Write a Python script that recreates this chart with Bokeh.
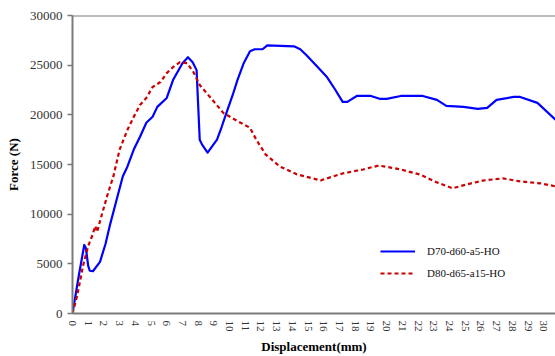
import math
from bokeh.plotting import figure
from bokeh.models import Span, Legend, LegendItem, FixedTicker, Range1d
from bokeh.embed import file_html
from bokeh.resources import INLINE

# Load-displacement curves of the two specimens
disp_a = [0, 0.4, 0.75, 0.85, 1.0, 1.1, 1.3, 1.75, 2.1, 2.4, 2.8, 3.2, 3.5, 3.9, 4.3,
          4.7, 5.1, 5.4, 6.0, 6.4, 7.0, 7.35, 7.65, 7.9, 8.0, 8.1, 8.25, 8.6, 9.2,
          9.5, 9.8, 10.2, 10.5, 10.9, 11.3, 11.6, 12.1, 12.4, 14.1, 14.5, 14.9,
          15.5, 16.2, 16.7, 17.2, 17.5, 17.7, 18.1, 19.0, 19.6, 20.0, 20.9, 22.3,
          23.2, 23.8, 24.9, 25.8, 26.4, 27.0, 28.1, 28.5, 29.6, 30.75]
force_a = [0, 3800, 6900, 6600, 4800, 4300, 4250, 5200, 7000, 9000, 11400, 13800,
           14800, 16500, 17800, 19200, 19800, 20800, 21700, 23500, 25200, 25800,
           25300, 24500, 21000, 17500, 17000, 16200, 17500, 18800, 20200, 22000,
           23500, 25200, 26400, 26600, 26600, 27000, 26900, 26600, 26000, 25000,
           23800, 22600, 21300, 21300, 21500, 21900, 21900, 21600, 21600, 21900,
           21900, 21500, 20900, 20800, 20600, 20700, 21500, 21800, 21800, 21200,
           19500]

disp_b = [0, 0.3, 0.67, 1.0, 1.25, 1.45, 1.57, 1.75, 2.2, 2.6, 3.0, 3.5, 3.9, 4.3,
          4.7, 5.1, 5.6, 6.0, 6.4, 6.85, 7.3, 7.7, 8.1, 8.75, 9.6, 10.7, 11.3, 11.7,
          12.3, 13.2, 14.3, 15.8, 17.2, 18.5, 19.5, 20.9, 22.1, 23.2, 24.2, 25.1,
          26.2, 27.4, 28.5, 29.8, 30.75]
force_b = [0, 1800, 4800, 6800, 7800, 8800, 8200, 9300, 11800, 13800, 16500, 18500,
           19800, 21000, 21700, 22800, 23300, 24200, 24800, 25300, 25200, 24300,
           23000, 21800, 20200, 19200, 18700, 17500, 16000, 14800, 14000, 13400,
           14100, 14500, 14900, 14500, 14000, 13200, 12600, 13000, 13400, 13600,
           13300, 13100, 12800]

labels = ["D70-d60-a5-HO", "D80-d65-a15-HO"]
x_ticks = list(range(0, 31))
y_ticks = [0, 5000, 10000, 15000, 20000, 25000, 30000]

SERIF = "Liberation Serif"
AXIS_GRAY = "#7a7a7a"

p = figure(width=555, height=356, output_backend="svg", toolbar_location=None,
           x_range=Range1d(0, 30.75), y_range=Range1d(0, 30000),
           min_border_left=72, min_border_right=0, min_border_top=15,
           min_border_bottom=41)
p.outline_line_color = None
p.xgrid.visible = False
p.ygrid.visible = False
p.background_fill_color = "white"
p.border_fill_color = "white"

r_a = p.line(disp_a, force_a, line_color="#0000ff", line_width=2.2, line_join="round")
r_b = p.line(disp_b, force_b, line_color="#cc0000", line_width=2.2, line_dash="4 3")

# top frame line
p.add_layout(Span(location=30000, dimension="width", line_color=AXIS_GRAY, line_width=2))

for ax in (p.xaxis[0], p.yaxis[0]):
    ax.axis_line_color = AXIS_GRAY
    ax.axis_line_width = 2
    ax.major_tick_line_color = AXIS_GRAY
    ax.major_tick_line_width = 1.5
    ax.minor_tick_line_color = None
    ax.major_tick_in = 0
    ax.major_label_text_font = SERIF
    ax.major_label_text_color = "#333333"
    ax.axis_label_text_font = SERIF
    ax.axis_label_text_font_style = "bold"
    ax.axis_label_text_color = "#000000"
    ax.axis_label_text_font_size = "13px"

xa = p.xaxis[0]
xa.ticker = FixedTicker(ticks=x_ticks)
xa.major_tick_out = 0
xa.major_label_orientation = -math.pi / 2
xa.major_label_text_font_size = "11px"
xa.major_label_standoff = 7
xa.axis_label = "Displacement(mm)"
xa.axis_label_standoff = 4

ya = p.yaxis[0]
ya.ticker = FixedTicker(ticks=y_ticks)
ya.major_tick_out = 5
ya.major_label_text_font_size = "13px"
ya.major_label_standoff = 5
ya.axis_label = "Force (N)"
ya.axis_label_standoff = 6

legend = Legend(items=[LegendItem(label=labels[0], renderers=[r_a]),
                       LegendItem(label=labels[1], renderers=[r_b])],
                location=(308, 30), border_line_color=None,
                background_fill_alpha=0, padding=0, margin=0, spacing=2,
                glyph_width=35, glyph_height=20, label_height=20,
                label_standoff=12, label_text_font=SERIF,
                label_text_font_size="11px", label_text_color="#111111")
p.add_layout(legend)

open("out.html", "w").write(file_html(p, INLINE))
